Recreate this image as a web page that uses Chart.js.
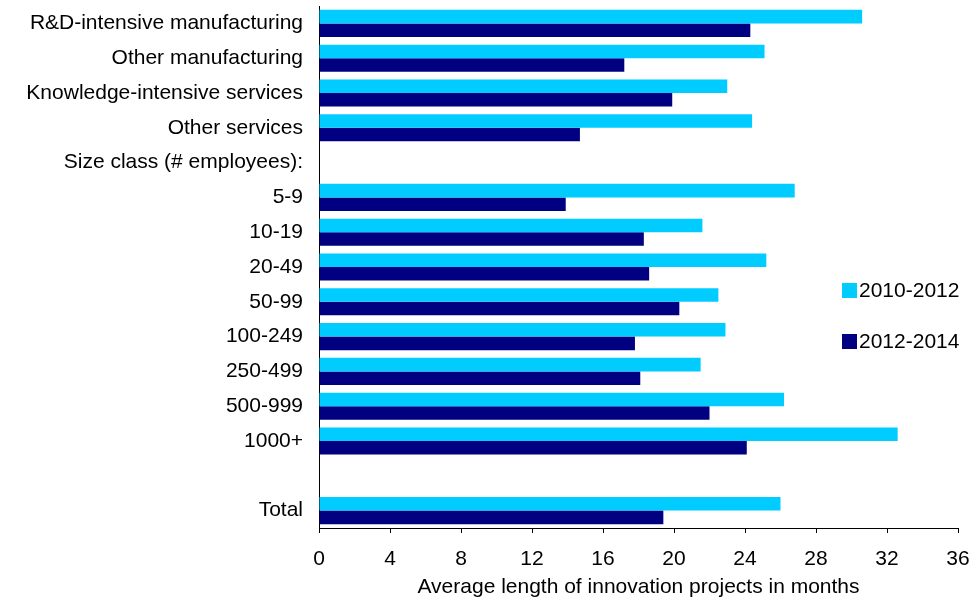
<!DOCTYPE html>
<html>
<head>
<meta charset="utf-8">
<script src="https://cdn.jsdelivr.net/npm/chart.js@4/dist/chart.umd.min.js"></script>
<style>
    body { margin: 0; background: #fff; }
    #wrap { width: 971px; height: 600px; }
</style>
</head>
<body>
<div id="wrap"><canvas id="chart" width="971" height="600"></canvas></div>
<script>
// categories top to bottom, blank rows are spacers
const categories = [
    'R&D-intensive manufacturing',
    'Other manufacturing',
    'Knowledge-intensive services',
    'Other services',
    'Size class (# employees):',
    '5-9',
    '10-19',
    '20-49',
    '50-99',
    '100-249',
    '250-499',
    '500-999',
    '1000+',
    '',
    'Total'
];

const months2010 = [30.6, 25.1, 23.0, 24.4, null, 26.8, 21.6, 25.2, 22.5, 22.9, 21.5, 26.2, 32.6, null, 26.0];
const months2012 = [24.3, 17.2, 19.9, 14.7, null, 13.9, 18.3, 18.6, 20.3, 17.8, 18.1, 22.0, 24.1, null, 19.4];

const seriesLabels = ['2010-2012', '2012-2014'];
const seriesColors = ['#00ccff', '#000080'];

const xTicks = [0, 4, 8, 12, 16, 20, 24, 28, 32, 36];
const xTitle = 'Average length of innovation projects in months';

const FONT = "'Liberation Sans', Arial, sans-serif";
const FSIZE = 21;

// legend sits inside the plot on the right, so draw it by hand
const sideLegend = {
    id: 'sideLegend',
    afterDraw(chart) {
        const ctx = chart.ctx;
        ctx.save();
        ctx.font = FSIZE + 'px ' + FONT;
        ctx.textBaseline = 'middle';
        ctx.textAlign = 'left';
        chart.data.datasets.forEach((ds, i) => {
            const y = 290 + i * 51;
            ctx.fillStyle = ds.backgroundColor;
            ctx.fillRect(842, y - 7, 15, 15);
            ctx.fillStyle = '#000';
            ctx.fillText(ds.label, 859, y + 1);
        });
        ctx.restore();
    }
};

new Chart(document.getElementById('chart'), {
    type: 'bar',
    data: {
        labels: categories,
        datasets: [
            {
                label: seriesLabels[0],
                data: months2010,
                backgroundColor: seriesColors[0],
                barPercentage: 1,
                categoryPercentage: 0.78,
            },
            {
                label: seriesLabels[1],
                data: months2012,
                backgroundColor: seriesColors[1],
                barPercentage: 1,
                categoryPercentage: 0.78,
            },
        ]
    },
    options: {
        indexAxis: 'y',
        responsive: false,
        animation: false,
        layout: { padding: { top: 6, right: 13, left: 0, bottom: 0 } },
        plugins: {
            legend: { display: false },
            tooltip: { enabled: false },
        },
        scales: {
            x: {
                min: 0,
                max: 36,
                afterBuildTicks: scale => { scale.ticks = xTicks.map(v => ({ value: v })); },
                afterFit: scale => {
                    scale.height = 72;
                    scale.paddingLeft = 0;
                    scale.paddingRight = 0;
                },
                grid: { display: true, drawOnChartArea: false, drawTicks: true, tickLength: 5, color: '#000' },
                border: { display: true, color: '#000', width: 1 },
                ticks: { color: '#000', font: { family: FONT, size: FSIZE }, padding: 14, maxRotation: 0 },
                title: {
                    display: true,
                    text: xTitle,
                    color: '#000',
                    font: { family: FONT, size: FSIZE },
                    padding: { top: 0, bottom: 0 },
                },
            },
            y: {
                afterFit: scale => {
                    scale.width = 319;
                    scale.paddingTop = 0;
                    scale.paddingBottom = 0;
                },
                grid: { display: false, drawTicks: false },
                border: { display: true, color: '#000', width: 1 },
                ticks: { color: '#000', font: { family: FONT, size: FSIZE }, padding: 16, autoSkip: false },
            }
        }
    },
    plugins: [sideLegend]
});
</script>
</body>
</html>
